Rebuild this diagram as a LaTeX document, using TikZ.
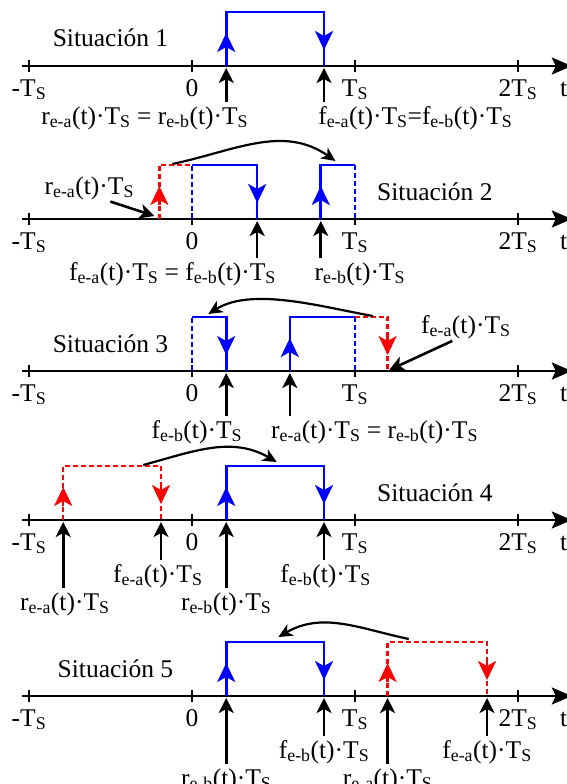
\documentclass[tikz,border=0pt]{standalone}
\usepackage{fontspec}
\setmainfont{Liberation Serif}
\usepackage{tikz}
\usetikzlibrary{arrows.meta}
\newcommand{\rea}{r\textsubscript{e-a}(t)·T\textsubscript{S}}
\newcommand{\reb}{r\textsubscript{e-b}(t)·T\textsubscript{S}}
\newcommand{\fea}{f\textsubscript{e-a}(t)·T\textsubscript{S}}
\newcommand{\feb}{f\textsubscript{e-b}(t)·T\textsubscript{S}}
\tikzset{timeaxis/.style={line width=2.6pt,-{Stealth[length=20pt,width=17pt,inset=4pt]}},
 tickmark/.style={line width=2.2pt},
 pulse/.style={blue,line width=2.6pt},
 ghost/.style={red,line width=2.4pt,dash pattern=on 5pt off 3pt},
 ghostblue/.style={blue,line width=2.4pt,dash pattern=on 5pt off 3pt},
 edgetip/.style={-{Stealth[length=19pt,width=18pt,inset=5pt]}},
 ghosttip/.style={red,solid,line width=2.4pt,edgetip},
 pointer/.style={line width=2.6pt,-{Stealth[length=15pt,width=15pt,inset=4pt]},shorten <=3pt},
 shiftarrow/.style={line width=2.2pt,-{Stealth[length=14pt,width=13pt,inset=4pt]}},
 every node/.style={font=\fontsize{25.5}{30}\selectfont,inner sep=1pt,anchor=base}}

\begin{document}
\begin{tikzpicture}[x=163pt,y=1pt]
\useasboundingbox (-1.1779,0) rectangle (2.2945,-784);
% the five time axes
\foreach \n/\ay in {1/-66,2/-219,3/-371,4/-520,5/-696}{
  \draw[timeaxis] (-1.04,\ay) -- (2.33,\ay);
  \node (t\n) at (2.28,\ay-30) {t};
  \foreach \k/\txt in {-1/-T\textsubscript{S},0/0,1/T\textsubscript{S},2/2T\textsubscript{S}}{
    \draw[tickmark] (\k,\ay-6) -- (\k,\ay+6);
    \node (k\n\k) at (\k,\ay-30) {\txt};
  }
}

% Situacion 1
\begin{scope}[yshift=-66pt]
\node (sit1) at (-0.5,19) {Situación 1};
\draw[pulse] (0.21,0) -- (0.21,54) -- (0.81,54) -- (0.81,0);
\draw[pulse,edgetip] (0.21,14) -- (0.21,33);
\draw[pulse,edgetip] (0.81,35) -- (0.81,16);
\coordinate (r1) at (0.21,-2);
\coordinate (f1) at (0.81,-2);
\node (r1lbl) at (-0.29,-58) {\rea{} = \reb};
\node (f1lbl) at (1.37,-58) {\fea=\feb};
\draw[pointer] (r1 |- r1lbl.north) -- (r1);
\draw[pointer] (f1 |- f1lbl.north) -- (f1);
\end{scope}

% Situacion 2
\begin{scope}[yshift=-219pt]
\node (sit2) at (1.49,19) {Situación 2};
\draw[ghost] (-0.2,0) -- (-0.2,54) -- (0,54);
\draw[ghostblue] (0,0) -- (0,54);
\draw[pulse] (0,54) -- (0.4,54) -- (0.4,0);
\draw[pulse] (0.79,0) -- (0.79,54) -- (1,54);
\draw[ghostblue] (1,54) -- (1,0);
\draw[ghosttip] (-0.2,14) -- (-0.2,33);
\draw[pulse,edgetip] (0.4,35) -- (0.4,16);
\draw[pulse,edgetip] (0.79,14) -- (0.79,33);
\coordinate (from2) at (-0.12,55);
\coordinate (to2) at (0.88,58);
\draw[shiftarrow] (from2) to[out=12,in=145] (to2);
\node (ra2) at (-0.63,25) {\rea};
\coordinate (ra2p) at (-0.23,3);
\draw[pointer] (ra2.-35) -- (ra2p);
\coordinate (f2) at (0.4,-2);
\coordinate (r2) at (0.79,-2);
\node (f2lbl) at (-0.12,-61) {\fea{} = \feb};
\node (r2lbl) at (1.03,-61) {\reb};
\draw[pointer] (f2 |- f2lbl.north) -- (f2);
\draw[pointer] (r2 |- r2lbl.north) -- (r2);
\end{scope}

% Situacion 3
\begin{scope}[yshift=-371pt]
\node (sit3) at (-0.5,19) {Situación 3};
\draw[ghostblue] (0,0) -- (0,54);
\draw[pulse] (0,54) -- (0.21,54) -- (0.21,0);
\draw[pulse] (0.6,0) -- (0.6,54) -- (1,54);
\draw[ghostblue] (1,54) -- (1,0);
\draw[ghost] (1,54) -- (1.2,54) -- (1.2,0);
\draw[pulse,edgetip] (0.21,35) -- (0.21,16);
\draw[pulse,edgetip] (0.6,14) -- (0.6,33);
\draw[ghosttip] (1.2,35) -- (1.2,16);
\coordinate (from3) at (1.11,55);
\coordinate (to3) at (0.10,57);
\draw[shiftarrow] (from3) to[out=170,in=32,looseness=0.8] (to3);
\node (fa3) at (1.68,38) {\fea};
\coordinate (fa3p) at (1.21,1);
\draw[pointer] (fa3.-130) -- (fa3p);
\coordinate (f3) at (0.21,-2);
\coordinate (r3) at (0.6,-2);
\node (f3lbl) at (0.03,-67) {\feb};
\node (r3lbl) at (1.12,-67) {\rea{} = \reb};
\draw[pointer] (f3 |- f3lbl.north) -- (f3);
\draw[pointer] (r3 |- r3lbl.north) -- (r3);
\end{scope}

% Situacion 4
\begin{scope}[yshift=-520pt]
\node (sit4) at (1.49,19) {Situación 4};
\draw[ghost] (-0.79,0) -- (-0.79,54) -- (-0.19,54) -- (-0.19,0);
\draw[pulse] (0.21,0) -- (0.21,54) -- (0.81,54) -- (0.81,0);
\draw[ghosttip] (-0.79,14) -- (-0.79,33);
\draw[ghosttip] (-0.19,35) -- (-0.19,16);
\draw[pulse,edgetip] (0.21,14) -- (0.21,33);
\draw[pulse,edgetip] (0.81,35) -- (0.81,16);
\coordinate (from4) at (-0.3,55);
\coordinate (to4) at (0.52,58);
\draw[shiftarrow] (from4) to[out=15,in=150] (to4);
\coordinate (ra4) at (-0.79,-2);
\coordinate (fa4) at (-0.19,-2);
\coordinate (rb4) at (0.21,-2);
\coordinate (fb4) at (0.81,-2);
\node (ra4lbl) at (-0.78,-90) {\rea};
\node (fa4lbl) at (-0.21,-62) {\fea};
\node (rb4lbl) at (0.21,-90) {\reb};
\node (fb4lbl) at (0.82,-62) {\feb};
\foreach \p in {ra4,fa4,rb4,fb4}
  \draw[pointer] (\p |- \p lbl.north) -- (\p);
\end{scope}

% Situacion 5
\begin{scope}[yshift=-696pt]
\node (sit5) at (-0.47,19) {Situación 5};
\draw[pulse] (0.21,0) -- (0.21,54) -- (0.81,54) -- (0.81,0);
\draw[ghost] (1.2,0) -- (1.2,54) -- (1.81,54) -- (1.81,0);
\draw[pulse,edgetip] (0.21,14) -- (0.21,33);
\draw[pulse,edgetip] (0.81,35) -- (0.81,16);
\draw[ghosttip] (1.2,14) -- (1.2,33);
\draw[ghosttip] (1.81,35) -- (1.81,16);
\coordinate (from5) at (1.33,57);
\coordinate (to5) at (0.53,59);
\draw[shiftarrow] (from5) to[out=168,in=30] (to5);
\coordinate (rb5) at (0.21,-2);
\coordinate (fb5) at (0.81,-2);
\coordinate (ra5) at (1.2,-2);
\coordinate (fa5) at (1.81,-2);
\node (rb5lbl) at (0.21,-90) {\reb};
\node (fb5lbl) at (0.81,-62) {\feb};
\node (ra5lbl) at (1.2,-90) {\rea};
\node (fa5lbl) at (1.81,-62) {\fea};
\foreach \p in {rb5,fb5,ra5,fa5}
  \draw[pointer] (\p |- \p lbl.north) -- (\p);
\end{scope}
\end{tikzpicture}
\end{document}
